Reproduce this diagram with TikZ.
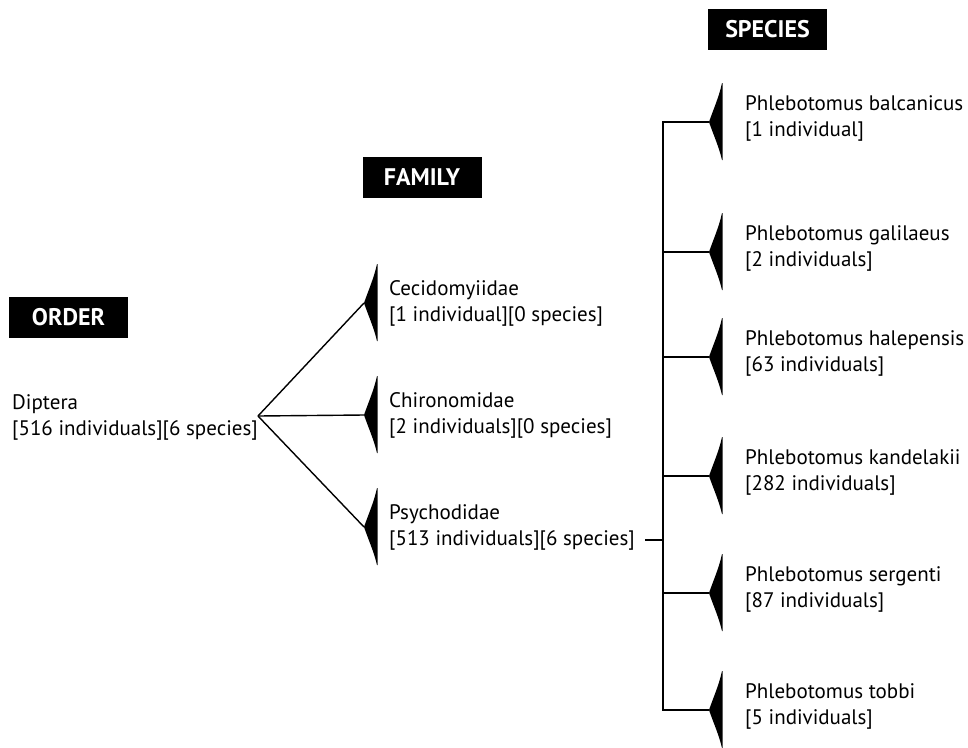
\documentclass[tikz,border=0pt]{standalone}
\usepackage{fontspec}
\setmainfont{PT Sans}
\usepackage{tikz}
\usetikzlibrary{positioning}

\tikzset{
  rankbox/.style={fill=black,text=white,font=\bfseries\fontsize{24}{28}\selectfont,
    minimum width=119pt,minimum height=41pt,inner sep=0pt},
  taxon/.style={anchor=west,align=left,inner sep=0pt,font=\fontsize{21}{26}\selectfont},
  branch/.style={line width=1.4pt},
  fan/.pic={\fill (0,0) .. controls (4.5,-13) and (10,-25) .. (13,-39)
    -- (13.5,-39) -- (13.5,38) -- (13,38) .. controls (10,25) and (4.5,13) .. (0,0) -- cycle;}
}

\begin{document}
\begin{tikzpicture}[x=1pt,y=-1pt]
\useasboundingbox (0,0) rectangle (968,747);

% ranks
\node[rankbox] (order) at (68.5,317.5) {ORDER};
\node[rankbox] (family) at (422,177) {FAMILY};
\node[rankbox] (species) at (767.5,29.5) {SPECIES};

% order
\node[taxon] (dip) at (12,417) {Diptera\\{}[516 individuals][6 species]};
\coordinate (fork) at (258,416);

% families
\coordinate (cec) at (364,303);
\coordinate (chi) at (364,415);
\coordinate (psy) at (364,527);
\foreach \t in {cec,chi,psy} \pic at (\t) {fan};
\node[taxon,right=25pt of cec] (ceclab) {Cecidomyiidae\\{}[1 individual][0 species]};
\node[taxon,right=25pt of chi] (chilab) {Chironomidae\\{}[2 individuals][0 species]};
\node[taxon,right=25pt of psy] (psylab) {Psychodidae\\{}[513 individuals][6 species]};
\draw[branch] (fork) -- (cec);
\draw[branch] (fork) -- (chi);
\draw[branch] (fork) -- (psy);

% species
\coordinate (bal) at (709,122);
\coordinate (gal) at (709,252);
\coordinate (hal) at (709,357);
\coordinate (kan) at (709,476);
\coordinate (ser) at (709,593);
\coordinate (tob) at (709,710);
\foreach \t in {bal,gal,hal,kan,ser,tob} \pic at (\t) {fan};
\node[taxon,right=36pt of bal,yshift=4pt] (ballab) {Phlebotomus balcanicus\\{}[1 individual]};
\node[taxon,right=36pt of gal,yshift=4pt] (gallab) {Phlebotomus galilaeus\\{}[2 individuals]};
\node[taxon,right=36pt of hal,yshift=4pt] (hallab) {Phlebotomus halepensis\\{}[63 individuals]};
\node[taxon,right=36pt of kan,yshift=4pt] (kanlab) {Phlebotomus kandelakii\\{}[282 individuals]};
\node[taxon,right=36pt of ser,yshift=4pt] (serlab) {Phlebotomus sergenti\\{}[87 individuals]};
\node[taxon,right=36pt of tob,yshift=4pt] (toblab) {Phlebotomus tobbi\\{}[5 individuals]};

\coordinate (psyout) at (645,540);
\coordinate (jn) at (663,540);
\draw[branch] (psyout) -- (jn);
\draw[branch] (bal) -| (jn) |- (tob);
\foreach \t in {gal,hal,kan,ser} \draw[branch] (jn |- \t) -- (\t);
\end{tikzpicture}
\end{document}
